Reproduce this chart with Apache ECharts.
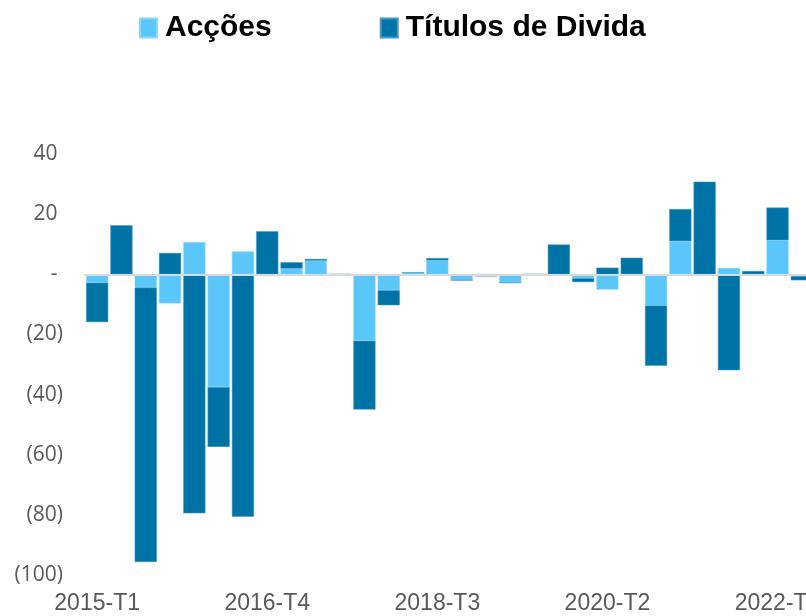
<!DOCTYPE html>
<html>
<head>
<meta charset="utf-8">
<script src="https://cdn.jsdelivr.net/npm/echarts@6/dist/echarts.min.js"></script>
<style>
  html, body { margin: 0; padding: 0; background: #fff; }
  #chart { width: 806px; height: 616px; }
</style>
</head>
<body>
<div id="chart"></div>
<script>
// quarterly categories (the chart is cut off on the right after 2022-T2)
const quarters = [
  '2015-T1', '2015-T2', '2015-T3', '2015-T4',
  '2016-T1', '2016-T2', '2016-T3', '2016-T4',
  '2017-T1', '2017-T2', '2017-T3', '2017-T4',
  '2018-T1', '2018-T2', '2018-T3', '2018-T4',
  '2019-T1', '2019-T2', '2019-T3', '2019-T4',
  '2020-T1', '2020-T2', '2020-T3', '2020-T4',
  '2021-T1', '2021-T2', '2021-T3', '2021-T4',
  '2022-T1', '2022-T2'
]
const acoes = [
  -2.8, 0, -4.4, -9.7, 10.7, -37.5, 7.6, -0.6,
  1.9, 4.5, 0, -22.1, -5.3, 0.6, 4.6, -2.0,
  0, -2.8, 0, 0, -1.3, -5.1, 0, -10.4,
  11.0, -0.4, 2.1, 0, 11.3, -0.6
]
const titulos = [
  -13.1, 16.3, -91.3, 7.1, -79.5, -19.9, -80.6, 14.3,
  2.1, 0.6, 0, -22.9, -5.0, 0, 0.8, 0,
  -0.7, 0, 0, 9.9, -1.3, 2.2, 5.5, -20.0,
  10.7, 30.8, -31.9, 1.1, 10.9, -1.4
]
const seriesNames = ['Acções', 'Títulos de Divida']

const chart = echarts.init(document.getElementById('chart'))

function yFmt(v) {
  if (v === 0) return '- '
  if (v < 0) return '(' + Math.abs(v) + ')'
  return v + ' '
}

chart.setOption({
  animation: false,
  legend: {
    data: seriesNames,
    left: 139,
    top: 13,
    padding: 0,
    icon: 'rect',
    itemWidth: 17,
    itemHeight: 19,
    itemGap: 108,
    textStyle: {
      fontFamily: 'Liberation Sans, Arial, sans-serif',
      fontWeight: 'bold',
      fontSize: 30,
      color: '#000',
      padding: [0, 0, 0, 3]
    }
  },
  grid: {
    left: 85,
    right: -8,
    top: 154,
    bottom: 41,
    outerBoundsMode: 'none'
  },
  xAxis: [
    {
      type: 'category',
      data: quarters,
      position: 'bottom',
      axisLine: { show: false, onZero: false },
      axisTick: { show: false },
      axisLabel: {
        interval: 6,
        margin: 17,
        fontFamily: 'Liberation Sans, Arial, sans-serif',
        fontSize: 23,
        color: '#595959'
      }
    },
    {
      // zero line
      type: 'category',
      data: quarters,
      position: 'bottom',
      z: 5,
      axisLine: { show: true, onZero: true, lineStyle: { color: '#D9D9D9', width: 2 } },
      axisTick: { show: false },
      axisLabel: { show: false }
    }
  ],
  yAxis: {
    type: 'value',
    min: -100,
    max: 40,
    interval: 20,
    splitLine: { show: false },
    axisLine: { show: false },
    axisTick: { show: false },
    axisLabel: {
      margin: 22,
      formatter: yFmt,
      fontFamily: 'Open Sans, sans-serif',
      fontSize: 21,
      color: '#595959'
    }
  },
  series: [
    {
      name: seriesNames[0],
      type: 'bar',
      stack: 'total',
      data: acoes,
      barCategoryGap: '9%',
      itemStyle: { color: '#5BC6FA', borderColor: '#8AD6FB', borderWidth: 0.5 }
    },
    {
      name: seriesNames[1],
      type: 'bar',
      stack: 'total',
      data: titulos,
      barCategoryGap: '9%',
      itemStyle: { color: '#0073A6', borderColor: '#3F9AC4', borderWidth: 0.5 }
    }
  ]
})
</script>
</body>
</html>
